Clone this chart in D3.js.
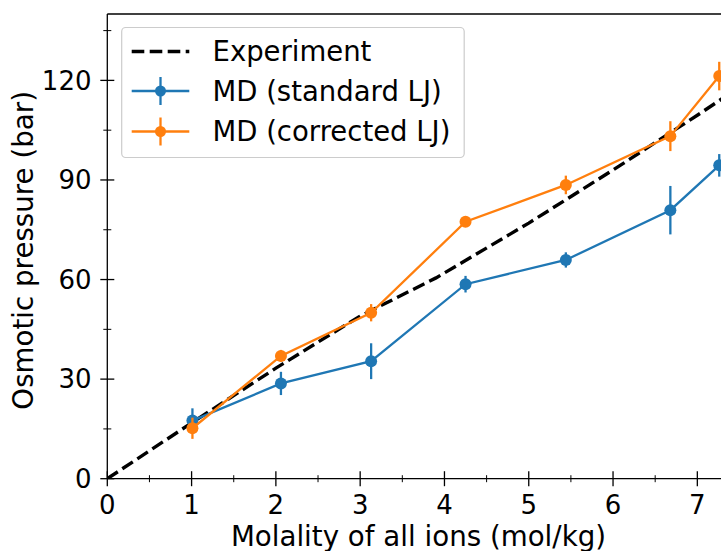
<!DOCTYPE html>
<html>
<head>
<meta charset="utf-8">
<script src="https://cdn.jsdelivr.net/npm/d3@7"></script>
<style>
  html, body { margin: 0; padding: 0; background: #fff; overflow: hidden; }
  text { font-family: "DejaVu Sans", sans-serif; fill: #000; }
</style>
</head>
<body>
<svg id="chart" width="721" height="551"></svg>
<script>
// Molality of all ions (mol/kg) at which the MD runs were done
const molality = [1.01, 2.06, 3.13, 4.25, 5.44, 6.68, 7.26];
// MD with standard Lennard-Jones parameters (bar) and their uncertainties
const standardLJ = [17.5, 28.7, 35.4, 58.6, 65.9, 80.9, 94.4];
const standardLJErr = [3.7, 3.5, 5.4, 2.5, 2.3, 7.3, 3.4];
// MD with corrected Lennard-Jones parameters (bar) and their uncertainties
const correctedLJ = [15.2, 37.0, 50.0, 77.4, 88.5, 103.2, 121.3];
const correctedLJErr = [3.2, 1.8, 2.6, 1.2, 2.8, 4.5, 4.3];
// Experimental osmotic pressure curve
const expMolality = [0, 1, 2, 3, 3.9, 5, 6, 7, 7.5];
const expPressure = [0, 16.8, 33.3, 49.0, 60.5, 77.0, 93.0, 109.5, 118.0];
// Axis ticks
const xTicks = [0, 1, 2, 3, 4, 5, 6, 7];
const xMinorTicks = [0.5, 1.5, 2.5, 3.5, 4.5, 5.5, 6.5];
const yTicks = [0, 30, 60, 90, 120];
const yMinorTicks = [15, 45, 75, 105, 135];
const seriesNames = ["Experiment", "MD (standard LJ)", "MD (corrected LJ)"];

const BLUE = "#1f77b4", ORANGE = "#ff7f0e";
const svg = d3.select("#chart");

const plotLeft = 107.3, plotTop = 14, plotBottom = 478.7;
const x = d3.scaleLinear().domain([0, 7.4]).range([plotLeft, plotLeft + 84.29 * 7.4]);
const y = d3.scaleLinear().domain([0, 140]).range([plotBottom, plotTop]);
const plotRight = x.range()[1];

svg.append("defs").append("clipPath").attr("id", "plotclip")
  .append("rect").attr("x", plotLeft).attr("y", plotTop)
  .attr("width", plotRight - plotLeft).attr("height", plotBottom - plotTop);

const plot = svg.append("g").attr("clip-path", "url(#plotclip)");

// experimental curve
plot.append("path")
  .datum(expMolality.map((m, i) => [m, expPressure[i]]))
  .attr("fill", "none").attr("stroke", "#000").attr("stroke-width", 3.4)
  .attr("stroke-dasharray", "12.6,5.4")
  .attr("d", d3.line().x(d => x(d[0])).y(d => y(d[1])));

function drawSeries(vals, errs, color) {
  const g = svg.append("g");
  const pts = molality.map((m, i) => ({ m, v: vals[i], e: errs[i] }));
  g.append("path").datum(pts)
    .attr("fill", "none").attr("stroke", color).attr("stroke-width", 2.3)
    .attr("d", d3.line().x(d => x(d.m)).y(d => y(d.v)));
  g.selectAll("line.err").data(pts).join("line").attr("class", "err")
    .attr("x1", d => x(d.m)).attr("x2", d => x(d.m))
    .attr("y1", d => y(d.v - d.e)).attr("y2", d => y(d.v + d.e))
    .attr("stroke", color).attr("stroke-width", 2.3);
  g.selectAll("circle").data(pts).join("circle")
    .attr("cx", d => x(d.m)).attr("cy", d => y(d.v)).attr("r", 6)
    .attr("fill", color);
}
drawSeries(standardLJ, standardLJErr, BLUE);
drawSeries(correctedLJ, correctedLJErr, ORANGE);

// spines
const axes = svg.append("g").attr("stroke", "#000").attr("stroke-width", 1.3);
axes.append("line").attr("x1", plotLeft).attr("x2", plotLeft).attr("y1", plotTop).attr("y2", plotBottom);
axes.append("line").attr("x1", plotLeft).attr("x2", plotRight).attr("y1", plotBottom).attr("y2", plotBottom);
axes.append("line").attr("x1", plotLeft).attr("x2", plotRight).attr("y1", plotTop).attr("y2", plotTop);

// ticks crossing the spines
axes.selectAll("line.xt").data(xTicks).join("line").attr("class", "xt")
  .attr("x1", d => x(d)).attr("x2", d => x(d))
  .attr("y1", plotBottom - 7.5).attr("y2", plotBottom + 7.5);
axes.selectAll("line.xm").data(xMinorTicks).join("line").attr("class", "xm")
  .attr("x1", d => x(d)).attr("x2", d => x(d))
  .attr("y1", plotBottom - 3.5).attr("y2", plotBottom + 3.5).attr("stroke-width", 1);
axes.selectAll("line.yt").data(yTicks).join("line").attr("class", "yt")
  .attr("y1", d => y(d)).attr("y2", d => y(d))
  .attr("x1", plotLeft - 7).attr("x2", plotLeft + 7);
axes.selectAll("line.ym").data(yMinorTicks).join("line").attr("class", "ym")
  .attr("y1", d => y(d)).attr("y2", d => y(d))
  .attr("x1", plotLeft - 4).attr("x2", plotLeft + 4).attr("stroke-width", 1);

// tick labels
svg.append("g").selectAll("text").data(xTicks).join("text")
  .attr("x", d => x(d)).attr("y", 513.5).attr("text-anchor", "middle")
  .attr("font-size", 26).text(d => d);
svg.append("g").selectAll("text").data(yTicks).join("text")
  .attr("x", 91.5).attr("y", d => y(d)).attr("dy", "0.36em").attr("text-anchor", "end")
  .attr("font-size", 26).text(d => d);

// axis titles
svg.append("text").attr("x", 418.5).attr("y", 546)
  .attr("text-anchor", "middle").attr("font-size", 27.7)
  .text("Molality of all ions (mol/kg)");
svg.append("text")
  .attr("transform", `translate(33,${(plotTop + plotBottom) / 2 + 4}) rotate(-90)`)
  .attr("text-anchor", "middle").attr("font-size", 27.7)
  .text("Osmotic pressure (bar)");

// legend
const lg = svg.append("g");
lg.append("rect").attr("x", 121.7).attr("y", 27.5).attr("width", 342.5).attr("height", 130)
  .attr("rx", 4).attr("fill", "#fff").attr("fill-opacity", 0.8)
  .attr("stroke", "#cccccc").attr("stroke-width", 1.2);
const rowY = [51.5, 91, 131.5];
const hx1 = 131.7, hx2 = 189.3, hxm = (hx1 + hx2) / 2;
lg.append("line").attr("x1", hx1).attr("x2", hx2).attr("y1", rowY[0]).attr("y2", rowY[0])
  .attr("stroke", "#000").attr("stroke-width", 3.4).attr("stroke-dasharray", "12.6,5.4");
[[BLUE, 1], [ORANGE, 2]].forEach(([c, i]) => {
  lg.append("line").attr("x1", hx1).attr("x2", hx2).attr("y1", rowY[i]).attr("y2", rowY[i])
    .attr("stroke", c).attr("stroke-width", 2.3);
  lg.append("line").attr("x1", hxm).attr("x2", hxm).attr("y1", rowY[i] - 14).attr("y2", rowY[i] + 14)
    .attr("stroke", c).attr("stroke-width", 2.3);
  lg.append("circle").attr("cx", hxm).attr("cy", rowY[i]).attr("r", 5.5).attr("fill", c);
});
lg.selectAll("text").data(seriesNames).join("text")
  .attr("x", 212.5).attr("y", (d, i) => rowY[i]).attr("dy", "0.36em")
  .attr("font-size", 27.5).text(d => d);
</script>
</body>
</html>
